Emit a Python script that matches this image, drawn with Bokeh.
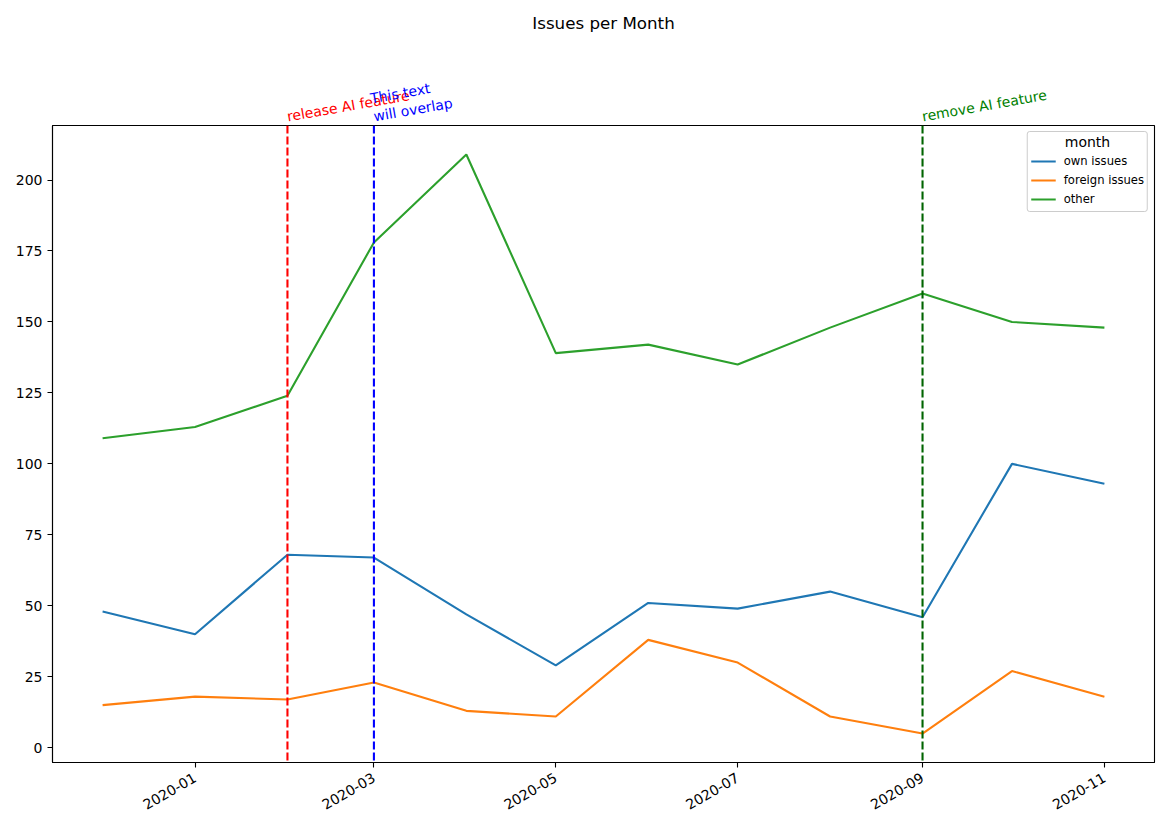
import math
from datetime import datetime
from bokeh.plotting import figure
from bokeh.layouts import column
from bokeh.models import (ColumnDataSource, Span, Legend, LegendItem, Label,
                          FixedTicker, DatetimeTickFormatter, Range1d)
from bokeh.core.properties import value
from bokeh.embed import file_html
from bokeh.resources import INLINE

# ---- data ----
months = ["2019-12", "2020-01", "2020-02", "2020-03", "2020-04", "2020-05",
          "2020-06", "2020-07", "2020-08", "2020-09", "2020-10", "2020-11"]
own_issues = [48, 40, 68, 67, 47, 29, 51, 49, 55, 46, 100, 93]
foreign_issues = [15, 18, 17, 23, 13, 11, 38, 30, 11, 5, 27, 18]
other = [109, 113, 124, 178, 209, 139, 142, 135, 148, 160, 150, 148]
series_names = ["own issues", "foreign issues", "other"]
series_colors = ["#1f77b4", "#ff7f0e", "#2ca02c"]

event_dates = ["2020-02", "2020-03", "2020-09"]
event_texts = ["release AI feature", "This text\nwill overlap", "remove AI feature"]
event_colors = ["red", "blue", "green"]
event_line_colors = ["red", "blue", "darkgreen"]

tick_labels = ["2020-01", "2020-03", "2020-05", "2020-07", "2020-09", "2020-11"]
y_ticks = [0, 25, 50, 75, 100, 125, 150, 175, 200]
title_text = "Issues per Month"
legend_title = "month"


def to_dt(s):
    return datetime.strptime(s + "-01", "%Y-%m-%d")


def to_ms(d):
    return (d - datetime(1970, 1, 1)).total_seconds() * 1000.0


dates = [to_dt(m) for m in months]
all_series = [own_issues, foreign_issues, other]

# ranges with 5% margins (matplotlib style)
x0, x1 = dates[0], dates[-1]
xm = (x1 - x0) * 0.05
ymin = min(min(s) for s in all_series)
ymax = max(max(s) for s in all_series)
ym = (ymax - ymin) * 0.05

FONT = "DejaVu Sans"
W = 1161
HEAD_H = 124

x_range = Range1d(x0 - xm, x1 + xm)

# ---- header strip (title + rotated event annotations above the frame) ----
head = figure(width=W, height=HEAD_H, x_axis_type="datetime",
              output_backend="svg", toolbar_location=None,
              x_range=x_range, y_range=Range1d(0, HEAD_H),
              x_axis_location=None, y_axis_location=None,
              min_border_left=52, min_border_right=7,
              min_border_top=0, min_border_bottom=0)
head.outline_line_color = None
head.xgrid.visible = False
head.ygrid.visible = False
head.background_fill_color = "white"
head.border_fill_color = "white"

ev_src = ColumnDataSource(dict(x=[to_dt(d) for d in event_dates],
                               y=[0] * len(event_dates),
                               text=event_texts, color=event_colors))
head.text("x", "y", text="text", source=ev_src, text_color="color",
          text_font=value(FONT), text_font_size="14px", angle=10,
          angle_units="deg", text_align="left", text_baseline="bottom",
          x_offset=1, y_offset=0, text_line_height=1.15)

head.text(x=[x0 + (x1 - x0) / 2], y=[HEAD_H - 22], text=[title_text],
          text_font=value(FONT), text_font_size="16.7px", text_color="black",
          text_align="center", text_baseline="middle")

# ---- main chart ----
p = figure(width=W, height=819 - HEAD_H, x_axis_type="datetime",
           output_backend="svg", toolbar_location=None,
           x_range=x_range,
           y_range=Range1d(ymin - ym, ymax + ym),
           min_border_left=52, min_border_right=7,
           min_border_top=1, min_border_bottom=57)

p.background_fill_color = "white"
p.border_fill_color = "white"
p.outline_line_color = "black"
p.outline_line_width = 1.1
p.xgrid.visible = False
p.ygrid.visible = False

renderers = []
for name, vals, col in zip(series_names, all_series, series_colors):
    src = ColumnDataSource(dict(x=dates, y=vals))
    r = p.line("x", "y", source=src, line_color=col, line_width=2.1)
    renderers.append((name, r))

for d, lcol in zip(event_dates, event_line_colors):
    p.add_layout(Span(location=to_ms(to_dt(d)), dimension="height",
                      line_color=lcol, line_width=2.1, line_dash="8 3"))

# axes
p.xaxis.ticker = FixedTicker(ticks=[to_ms(to_dt(t)) for t in tick_labels])
fmt = "%Y-%m"
p.xaxis.formatter = DatetimeTickFormatter(
    milliseconds=fmt, seconds=fmt, minsec=fmt, minutes=fmt, hourmin=fmt,
    hours=fmt, days=fmt, months=fmt, years=fmt)
p.xaxis.major_label_orientation = math.pi / 6
p.yaxis.ticker = FixedTicker(ticks=y_ticks)
for ax in (p.xaxis, p.yaxis):
    ax.major_tick_in = 0
    ax.major_tick_out = 5
    ax.minor_tick_line_color = None
    ax.axis_line_color = "black"
    ax.axis_line_width = 1.1
    ax.major_tick_line_color = "black"
    ax.major_tick_line_width = 1.1
    ax.major_label_text_color = "black"
    ax.major_label_text_font = FONT
    ax.major_label_text_font_size = "14px"
    ax.major_label_standoff = 5
p.xaxis.major_label_standoff = 9

# legend: a blank title reserves the space, the centred title is a label
legend = Legend(items=[LegendItem(label=n, renderers=[r]) for n, r in renderers],
                location="top_right", title=" ")
legend.title_text_font = FONT
legend.title_text_font_size = "14px"
legend.title_text_font_style = "normal"
legend.title_standoff = 1
legend.label_text_font = FONT
legend.label_text_font_size = "11.6px"
legend.label_text_color = "black"
legend.label_height = 18
legend.glyph_height = 18
legend.glyph_width = 25
legend.label_standoff = 8
legend.spacing = 1
legend.padding = 3
legend.margin = 6
legend.border_line_color = "#cccccc"
legend.border_line_width = 1
legend.border_line_alpha = 1
legend.background_fill_alpha = 0
legend.border_radius = 3
p.add_layout(legend)

p.add_layout(Label(x=1035, y=621, x_units="screen", y_units="screen",
                   text=legend_title, text_font=FONT, text_font_size="14px",
                   text_color="black", text_align="center",
                   text_baseline="middle", level="overlay"))

layout = column(head, p, spacing=0)
open("out.html", "w").write(file_html(layout, INLINE))
